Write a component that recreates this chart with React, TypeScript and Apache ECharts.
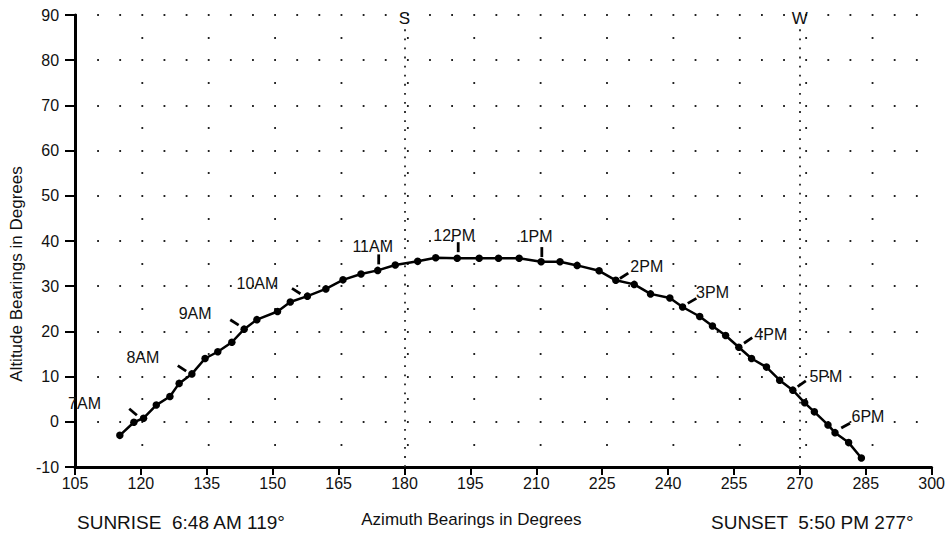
import React, { useEffect, useRef } from 'react';
import * as echarts from 'echarts';

// Sun path points (azimuth °, altitude °), every ~15 minutes
const azimuth = [115.2, 118.4, 120.6, 123.5, 126.6, 128.7, 131.6, 134.6, 137.5, 140.7, 143.5, 146.4, 151.1, 154.0, 157.9, 162.1, 166.0, 170.1, 173.9, 177.9, 183.0, 187.1, 192.0, 197.0, 201.4, 206.1, 211.1, 215.4, 219.3, 224.3, 228.1, 232.3, 236.0, 240.4, 243.3, 247.2, 250.1, 253.1, 256.1, 259.0, 262.4, 265.4, 268.4, 271.1, 273.3, 276.4, 278.0, 281.1, 284.0];
const altitude = [-3.0, -0.1, 0.8, 3.7, 5.6, 8.5, 10.6, 14.0, 15.5, 17.6, 20.5, 22.6, 24.4, 26.5, 27.8, 29.4, 31.4, 32.7, 33.5, 34.7, 35.5, 36.3, 36.2, 36.2, 36.2, 36.2, 35.4, 35.4, 34.6, 33.4, 31.3, 30.4, 28.3, 27.4, 25.4, 23.3, 21.2, 19.1, 16.5, 14.0, 12.1, 9.2, 7.0, 4.2, 2.2, -0.7, -2.4, -4.6, -8.0];

// Hour labels and the index of the sun-path point each one marks
const hourLabels = ['7AM', '8AM', '9AM', '10AM', '11AM', '12PM', '1PM', '2PM', '3PM', '4PM', '5PM', '6PM'];
const hourIndex = [2, 6, 10, 14, 18, 22, 26, 30, 34, 38, 42, 46];

// Compass directions marked on the azimuth axis
const compassAzimuth = [180, 270];
const compassLabels = ['S', 'W'];

const xMin = 105, xMax = 300, xStep = 15;
const yMin = -10, yMax = 90, yStep = 10;

const sunriseText = 'SUNRISE  6:48 AM 119°';
const sunsetText = 'SUNSET  5:50 PM 277°';

// ---- layout / style (not data) ----
const FONT = "'Liberation Sans', Arial, Helvetica, sans-serif";
const GRID = { left: 70, top: 15, width: 863, height: 454 };
const pxPerDegX = GRID.width / (xMax - xMin);
const pxPerDegY = GRID.height / (yMax - yMin);
const DOT = 1.8;

// per-hour tick mark & label placement (pixels relative to the marked point)
const hourMarkLayout = [
  { tick: [-10.5, -6.2], rot: 50, label: [-59, -15] },
  { tick: [-9.9, -5.5], rot: 57, label: [-49, -16] },
  { tick: [-9.7, -6.7], rot: 57, label: [-49, -16] },
  { tick: [-11.2, -5.1], rot: 58, label: [-50, -13] },
  { tick: [1, -11], rot: 0, label: [-5, -24] },
  { tick: [1, -11], rot: 0, label: [-3, -23] },
  { tick: [0.7, -9.7], rot: 0, label: [-5, -25.5] },
  { tick: [8.3, -4.5], rot: -57, label: [31, -14] },
  { tick: [9.5, -6.1], rot: -60, label: [30, -14] },
  { tick: [9.3, -6.8], rot: -56, label: [32, -13] },
  { tick: [8.9, -6.4], rot: -55, label: [33, -14] },
  { tick: [10.6, -7], rot: -61, label: [33, -16] },
];

const sunPath = azimuth.map((a, i) => [a, altitude[i]]);

const hourTicks = hourIndex.map((idx, i) => ({
  value: [azimuth[idx], altitude[idx]],
  symbolOffset: hourMarkLayout[i].tick,
  symbolRotate: hourMarkLayout[i].rot,
}));

const hourLabelData = hourIndex.map((idx, i) => ({
  name: hourLabels[i],
  value: [azimuth[idx], altitude[idx]],
  label: { offset: hourMarkLayout[i].label },
}));

const compassLines = compassAzimuth.map((az, i) => [
  { coord: [az, yMin], name: compassLabels[i] },
  { coord: [az, yMax - 2], name: compassLabels[i] },
]);

const option: any = {
  animation: false,
  backgroundColor: '#ffffff',
  grid: { left: GRID.left, top: GRID.top, width: GRID.width, height: GRID.height, containLabel: false },
  xAxis: {
    type: 'value',
    min: xMin,
    max: xMax,
    interval: xStep,
    name: 'Azimuth Bearings in Degrees',
    nameLocation: 'middle',
    nameGap: 44,
    nameTextStyle: { fontFamily: FONT, fontSize: 17, color: '#111', padding: [0, 64, 0, 0] },
    axisLine: { onZero: false, lineStyle: { color: '#000', width: 3 } },
    axisTick: { length: 8, lineStyle: { color: '#000', width: 2 } },
    axisLabel: { fontFamily: FONT, fontSize: 16, color: '#111', margin: 8 },
    splitLine: { show: false },
  },
  yAxis: {
    type: 'value',
    min: yMin,
    max: yMax,
    interval: yStep,
    name: 'Altitude Bearings in Degrees',
    nameLocation: 'middle',
    nameGap: 43,
    nameTextStyle: { fontFamily: FONT, fontSize: 17, color: '#111', padding: [0, 66, 0, 0] },
    axisLine: { onZero: false, lineStyle: { color: '#000', width: 3 } },
    axisTick: { length: 10, lineStyle: { color: '#000', width: 2 } },
    axisLabel: { fontFamily: FONT, fontSize: 16, color: '#111', margin: 16 },
    splitLine: {
      show: true,
      lineStyle: { color: '#222', width: DOT, type: [DOT, 5 * pxPerDegX - DOT] },
    },
    minorTick: { show: false, splitNumber: 2 },
    minorSplitLine: {
      show: true,
      lineStyle: { color: '#222', width: DOT, type: [DOT, 15 * pxPerDegX - DOT] },
    },
  },
  series: [
    {
      name: 'Sun path',
      type: 'line',
      data: sunPath,
      symbol: 'circle',
      symbolSize: 7.5,
      showSymbol: true,
      itemStyle: { color: '#000', opacity: 1 },
      lineStyle: { color: '#000', width: 2.5 },
      z: 5,
      markLine: {
        silent: true,
        symbol: ['none', 'none'],
        lineStyle: { color: '#222', width: DOT, type: [DOT, 2 * pxPerDegY - DOT] },
        label: {
          show: true,
          position: 'end',
          distance: -3,
          formatter: '{b}',
          fontFamily: FONT,
          fontSize: 17,
          color: '#111',
        },
        emphasis: { disabled: true },
        data: compassLines,
      },
    },
    {
      name: 'Hour ticks',
      type: 'scatter',
      data: hourTicks,
      symbol: 'rect',
      symbolSize: [2.8, 10],
      itemStyle: { color: '#000', opacity: 1 },
      silent: true,
      z: 6,
    },
    {
      name: 'Hour labels',
      type: 'scatter',
      data: hourLabelData,
      symbol: 'circle',
      symbolSize: 1,
      itemStyle: { color: '#fff', opacity: 0 },
      silent: true,
      label: {
        show: true,
        position: 'inside',
        formatter: '{b}',
        fontFamily: FONT,
        fontSize: 16,
        color: '#111',
        opacity: 1,
      },
      z: 7,
    },
  ],
  graphic: [
    {
      type: 'text',
      x: 77,
      y: 522,
      style: { text: sunriseText, fontFamily: FONT, fontSize: 19, fill: '#111', align: 'left', verticalAlign: 'middle' },
    },
    {
      type: 'text',
      x: 711,
      y: 522,
      style: { text: sunsetText, fontFamily: FONT, fontSize: 19, fill: '#111', align: 'left', verticalAlign: 'middle' },
    },
  ],
};

export default function App() {
  const ref = useRef<HTMLDivElement>(null);
  useEffect(() => {
    const chart = echarts.init(ref.current as HTMLDivElement, null, { renderer: 'svg' });
    chart.setOption(option);
    return () => chart.dispose();
  }, []);
  return (
    <div
      ref={ref}
      style={{ position: 'absolute', left: 0, top: 0, width: 948, height: 533, background: '#fff' }}
    />
  );
}
